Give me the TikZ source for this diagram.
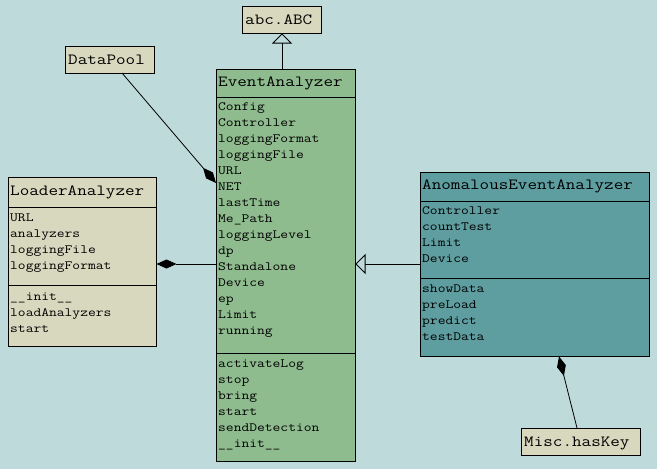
\documentclass[tikz,border=0pt]{standalone}
\usepackage{fontspec}
\usetikzlibrary{arrows.meta}
\definecolor{bgc}{HTML}{BFDADA}
\definecolor{beige}{HTML}{D8D8BF}
\definecolor{seagreen}{HTML}{8FBC8F}
\definecolor{cadet}{HTML}{5F9EA0}
\newfontfamily\umlfont[FakeStretch=1.2]{Latin Modern Mono}
\tikzset{
  box/.style={draw=black, line width=0.9pt, inner sep=0pt, anchor=north west},
  ttl/.style={anchor=base west, inner sep=0pt, font=\umlfont\fontsize{15.5}{15.5}\selectfont},
  mem/.style={anchor=base west, inner sep=0pt, font=\umlfont\fontsize{12.6}{12.6}\selectfont},
  sep/.style={line width=0.9pt},
  link/.style={line width=0.8pt},
  compose/.style={link, -{Diamond[length=20pt, width=9pt]}},
  inherit/.style={link, -{Triangle[open, length=10pt, width=20pt, line width=0.8pt]}},
}
\begin{document}
\begin{tikzpicture}[x=1pt, y=-1pt]
\useasboundingbox[fill=bgc] (0,0) rectangle (657,469);

% abc.ABC
\node[box, fill=beige, minimum width=79pt, minimum height=27pt] (abc) at (242,6) {};
\node[ttl] (abct) at (245,24) {abc.ABC};

% DataPool
\node[box, fill=beige, minimum width=89pt, minimum height=27pt] (dpool) at (65,46) {};
\node[ttl] (dpoolt) at (68,64) {DataPool};

% Misc.hasKey
\node[box, fill=beige, minimum width=119pt, minimum height=27pt] (misc) at (521,428) {};
\node[ttl] (misct) at (524,446) {Misc.hasKey};

% EventAnalyzer
\node[box, fill=seagreen, minimum width=139pt, minimum height=392pt] (ea) at (216,69) {};
\draw[sep] (216,97) -- (355,97);
\draw[sep] (216,353) -- (355,353);
\node[ttl] (eat) at (218,86) {EventAnalyzer};
\foreach \t [count=\i from 0] in {Config,Controller,loggingFormat,loggingFile,URL,NET,lastTime,Me\_Path,loggingLevel,dp,Standalone,Device,ep,Limit,running}
  \node[mem] (ea-a\i) at (218,110+16*\i) {\t};
\foreach \t [count=\i from 0] in {activateLog,stop,bring,start,sendDetection,\_\_init\_\_}
  \node[mem] (ea-m\i) at (218,367.5+16*\i) {\t};

% LoaderAnalyzer
\node[box, fill=beige, minimum width=148pt, minimum height=169pt] (la) at (8,177) {};
\draw[sep] (8,207) -- (156,207);
\draw[sep] (8,285) -- (156,285);
\node[ttl] (lat) at (10,195) {LoaderAnalyzer};
\foreach \t [count=\i from 0] in {URL,analyzers,loggingFile,loggingFormat}
  \node[mem] (la-a\i) at (10,221+16*\i) {\t};
\foreach \t [count=\i from 0] in {\_\_init\_\_,loadAnalyzers,start}
  \node[mem] (la-m\i) at (10,300+16*\i) {\t};

% AnomalousEventAnalyzer
\node[box, fill=cadet, minimum width=229pt, minimum height=184pt] (aea) at (420,172) {};
\draw[sep] (420,201) -- (649,201);
\draw[sep] (420,278) -- (649,278);
\node[ttl] (aeat) at (422,189) {AnomalousEventAnalyzer};
\foreach \t [count=\i from 0] in {Controller,countTest,Limit,Device}
  \node[mem] (aea-a\i) at (422,214.5+16*\i) {\t};
\foreach \t [count=\i from 0] in {showData,preLoad,predict,testData}
  \node[mem] (aea-m\i) at (422,292+16*\i) {\t};

% connector end points on the box edges
\coordinate (eaTop) at (282,69);
\coordinate (abcBot) at (282,33.5);
\coordinate (dpoolOut) at (122,73);
\coordinate (eaDiamond) at (216,183);
\coordinate (eaLeft) at (216,264);
\coordinate (laRight) at (156.5,264);
\coordinate (aeaLeft) at (420,264);
\coordinate (eaRight) at (355.5,264);
\coordinate (miscTop) at (577,428);
\coordinate (aeaBot) at (559,356.5);

% generalisations
\draw[inherit] (eaTop) -- (abcBot);
\draw[inherit] (aeaLeft) -- (eaRight);

% compositions
\draw[compose] (dpoolOut) -- (eaDiamond);
\draw[compose] (eaLeft) -- (laRight);
\draw[compose] (miscTop) -- (aeaBot);
\end{tikzpicture}
\end{document}
